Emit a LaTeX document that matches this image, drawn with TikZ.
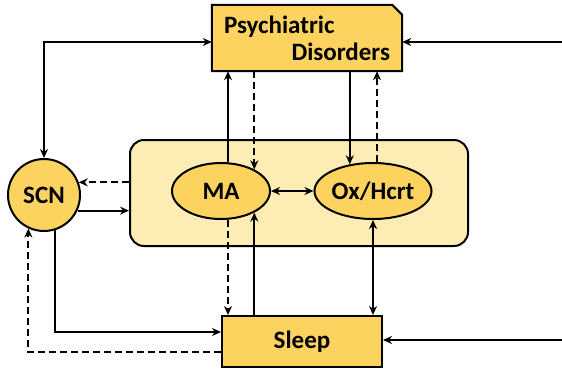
\documentclass[tikz,border=0pt]{standalone}
\usepackage{fontspec}
\setmainfont{Carlito}
\usepackage{tikz}
\usetikzlibrary{arrows.meta,shapes.geometric,backgrounds}

\definecolor{gold}{HTML}{FBD35E}
\definecolor{paleGold}{HTML}{FDEDB5}

\tikzset{
  lbl/.style={font=\fontsize{25}{27}\selectfont\bfseries},
  blk/.style={draw,line width=2pt,fill=gold,lbl},
  conn/.style={line width=1.9pt,-{Stealth[length=9pt,width=8pt]}},
  both/.style={line width=1.9pt,{Stealth[length=9pt,width=8pt]}-{Stealth[length=9pt,width=8pt]}},
  dsh/.style={dash pattern=on 7pt off 4pt}
}

\begin{document}
\begin{tikzpicture}[x=1pt,y=-1pt]
\useasboundingbox (0,0) rectangle (562,368);

% boxes
\node[draw,line width=2pt,fill=paleGold,rounded corners=14pt,
  minimum width=338,minimum height=106] (core) at (299,193) {};
\node[lbl,minimum width=190,minimum height=66,text width=166,inner xsep=12,
  align=left] (psy) at (307,38) {Psychiatric\\\hspace*{\fill}Disorders\hspace*{4pt}};
\node[blk,minimum width=160,minimum height=51] (sleep) at (302,341.5) {Sleep};
\node[blk,circle,minimum size=72,inner sep=0] (scn) at (44,195) {SCN};
\node[blk,ellipse,minimum width=98,minimum height=56,inner sep=0] (ma) at (221,191) {MA};
\node[blk,ellipse,minimum width=98,minimum height=56,inner sep=0] (ox) at (373,191) {Ox/Hcrt};

\begin{scope}[on background layer]
\draw[line width=2pt,fill=gold] (psy.south west) -- (psy.north west)
  -- ([xshift=-10pt]psy.north east) -- ([yshift=-10pt]psy.north east)
  -- (psy.south east) -- cycle;
\end{scope}

\coordinate (psyIn) at (562,42);
\coordinate (sleepIn) at (562,340);

% connectors
\draw[conn] (psyIn) -- (psyIn -| psy.east);
\draw[conn] (sleepIn) -- (sleepIn -| sleep.east);
\draw[both] (scn.north) |- ([yshift=-4pt]psy.west);
\draw[conn] (scn.-25) -- (scn.-25 -| core.west);
\draw[conn,dsh] (scn.20 -| core.west) -- (scn.20);
\draw[conn] (scn.-72) |- ([yshift=9.5pt]sleep.west);
\draw[conn,dsh] ([yshift=-10.5pt]sleep.west) -| (scn.-115);

\draw[conn] ([xshift=7pt]ma.north) -- ([xshift=7pt]ma.north |- psy.south);
\draw[conn,dsh] (psy.south -| ma.33) -- (ma.33);
\draw[conn] (psy.south -| ox.131) -- (ox.131);
\draw[conn,dsh] ([xshift=4pt]ox.north) -- ([xshift=4pt]ox.north |- psy.south);
\draw[both] (ma.east) -- (ox.west);

\draw[conn,dsh] ([xshift=7pt]ma.south) -- ([xshift=7pt]ma.south |- sleep.north);
\draw[conn] (sleep.north -| ma.-33) -- (ma.-33);
\draw[both] (ox.south) -- (ox.south |- sleep.north);
\end{tikzpicture}
\end{document}
